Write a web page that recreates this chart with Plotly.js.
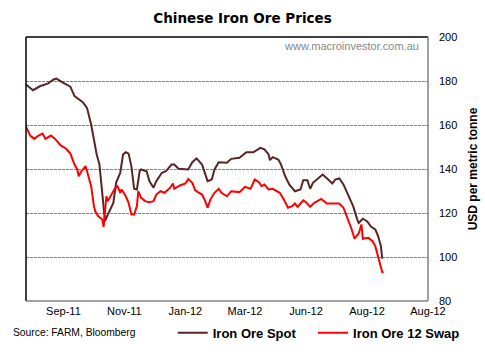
<!DOCTYPE html>
<html>
<head>
<meta charset="utf-8">
<script src="https://cdn.plot.ly/plotly-3.0.1.min.js"></script>
<style>html,body{margin:0;padding:0;background:#fff;}#chart{width:485px;height:356px;}</style>
</head>
<body>
<div id="chart"></div>
<script>
// Observation index (approx. trading days from late Jul 2011)
const spotDay = [0,5,10,16,20,22,26,32,35,41,44,47,49,51,53,55,57,59,63,65,68,70,72,74,76,78,80,82,83,87,89,92,94,98,101,105,107,110,117,120,123,127,129,131,134,136,139,145,148,154,159,164,169,172,175,176,178,182,184,187,190,194,198,200,203,205,207,211,214,218,221,223,226,229,233,236,239,240,243,246,249,252,254,256,257];
const spotPrice = [178.4,175.8,177.6,178.9,180.7,181.1,179.5,177.4,173.1,170.4,167.8,160.2,153.4,146.6,142,127.6,116.3,119.3,124.6,133.7,138.3,146.6,147.6,147,141.3,131,130.7,139,139.8,139,134.5,131.5,134.5,138.3,139,142,142,140.1,139.8,143.1,144.8,142,138.3,134.5,135.2,139.8,143.1,142.8,144.6,145.1,147.6,147.6,149.6,148.9,146.6,144,145.4,144.3,142,136.7,132.9,129.9,130.7,134.9,134.9,131,133.7,136,137.5,135.2,133.4,135.2,135.7,133,127.6,123.1,117,115.5,117.4,116.3,113.7,112.5,109.5,105,99.2];

const swapDay = [0,3,6,9,12,14,18,21,25,29,32,34,35,37,38,40,43,45,47,49,50,52,55,56,58,59,62,64,66,68,69,72,74,76,78,80,81,83,86,89,92,94,97,100,104,106,107,111,115,117,120,122,124,127,129,131,133,136,139,141,145,148,154,158,162,165,168,170,172,175,178,183,186,189,192,194,196,200,202,205,208,213,217,222,226,229,232,235,237,240,242,243,247,250,252,255,257,258];
const swapPrice = [159.2,155.2,153.7,155.2,156.1,153.7,155.2,153.7,150.7,149.2,147,143.1,142,139.8,136.7,139,141.3,136.7,132.2,123.1,120.8,118.6,117,113.7,127.6,125.4,128.9,131,132.2,129.2,130.7,127.6,124.6,119.3,119.3,123.1,129.9,126.9,125.4,124.9,125.4,128.4,129.9,129.2,131.5,133.4,131,132.5,133.4,135.4,133.7,130.4,129.5,128.4,125.8,122.4,126.1,129.2,131,129.2,127.6,129.9,129.5,131.9,131,135.2,134,132.2,132.9,130.7,131,129.2,126.1,122.4,123.1,124.3,122.8,125.8,124.9,122.8,124.6,126.4,124.3,124.3,124.3,122.4,117.8,112.5,108.3,110.7,114.8,108.3,108.7,107.2,104.9,97.4,93.1,93.1];

const xTickVals = [27,71,115,158,202,246,290];
const xTickText = ['Sep-11','Nov-11','Jan-12','Mar-12','Jun-12','Aug-12','Aug-12'];
const yTickVals = [80,100,120,140,160,180,200];

const fontL = '"Liberation Sans", Arial, sans-serif';
const fontD = '"DejaVu Sans", Verdana, sans-serif';
const legFont = {family: fontL, size: 13, color: '#000', weight: 'bold'};

const traces = [
  {x: spotDay, y: spotPrice, type: 'scatter', mode: 'lines', name: 'Iron Ore Spot',
   line: {color: '#5a2424', width: 2}, legend: 'legend'},
  {x: swapDay, y: swapPrice, type: 'scatter', mode: 'lines', name: 'Iron Ore 12 Swap',
   line: {color: '#ff0000', width: 2}, legend: 'legend2'}
];

const layout = {
  width: 485, height: 356,
  margin: {l: 26, r: 57, t: 37, b: 55, autoexpand: false},
  paper_bgcolor: '#fff', plot_bgcolor: '#fff',
  showlegend: true,
  title: {text: 'Chinese Iron Ore Prices', x: 0.5, xanchor: 'center', y: 0.95, yanchor: 'middle',
          font: {family: fontD, size: 13.5, color: '#000', weight: 'bold'}},
  xaxis: {range: [0, 290], tickmode: 'array', tickvals: xTickVals, ticktext: xTickText,
          showgrid: false, zeroline: false, showline: false, ticks: '', ticklabelstandoff: 2,
          tickfont: {family: fontL, size: 11, color: '#000'}, fixedrange: true},
  yaxis: {range: [80, 200], side: 'right', tickmode: 'array', tickvals: yTickVals,
          showgrid: true, gridcolor: '#808080', griddash: '3px,1px', gridwidth: 1,
          zeroline: false, showline: false, ticks: '', ticklabelstandoff: 10,
          tickfont: {family: fontL, size: 11, color: '#000'},
          title: {text: 'USD per metric tonne', standoff: 12,
                  font: {family: fontL, size: 12, color: '#000', weight: 'bold'}}},
  legend: {orientation: 'h', x: 0.365, xanchor: 'left', y: -0.12, yanchor: 'middle',
           font: legFont, itemwidth: 30, bgcolor: 'rgba(0,0,0,0)'},
  legend2: {orientation: 'h', x: 0.714, xanchor: 'left', y: -0.12, yanchor: 'middle',
           font: legFont, itemwidth: 30, bgcolor: 'rgba(0,0,0,0)'},
  annotations: [
    {text: 'www.macroinvestor.com.au', xref: 'paper', yref: 'paper', x: 0.983, y: 0.965,
     xanchor: 'right', yanchor: 'middle', showarrow: false,
     font: {family: fontL, size: 11, color: '#888888'}},
    {text: 'Source: FARM, Bloomberg', xref: 'paper', yref: 'paper', x: -0.038, y: -0.12,
     xanchor: 'left', yanchor: 'middle', showarrow: false,
     font: {family: fontL, size: 10.3, color: '#000'}}
  ],
  shapes: [
    {type: 'line', xref: 'paper', yref: 'paper', x0: 0, x1: 1, y0: 1, y1: 1, line: {color: '#000', width: 1.5}},
    {type: 'line', xref: 'paper', yref: 'paper', x0: 0, x1: 0, y0: 0, y1: 1, line: {color: '#000', width: 1.5}},
    {type: 'line', xref: 'paper', yref: 'paper', x0: 1, x1: 1, y0: 0, y1: 1, line: {color: '#808080', width: 1.5}},
    {type: 'line', xref: 'paper', yref: 'paper', x0: 0, x1: 1, y0: 0, y1: 0, line: {color: '#808080', width: 1.5}}
  ]
};

Plotly.newPlot('chart', traces, layout, {displayModeBar: false, staticPlot: true});
</script>
</body>
</html>
